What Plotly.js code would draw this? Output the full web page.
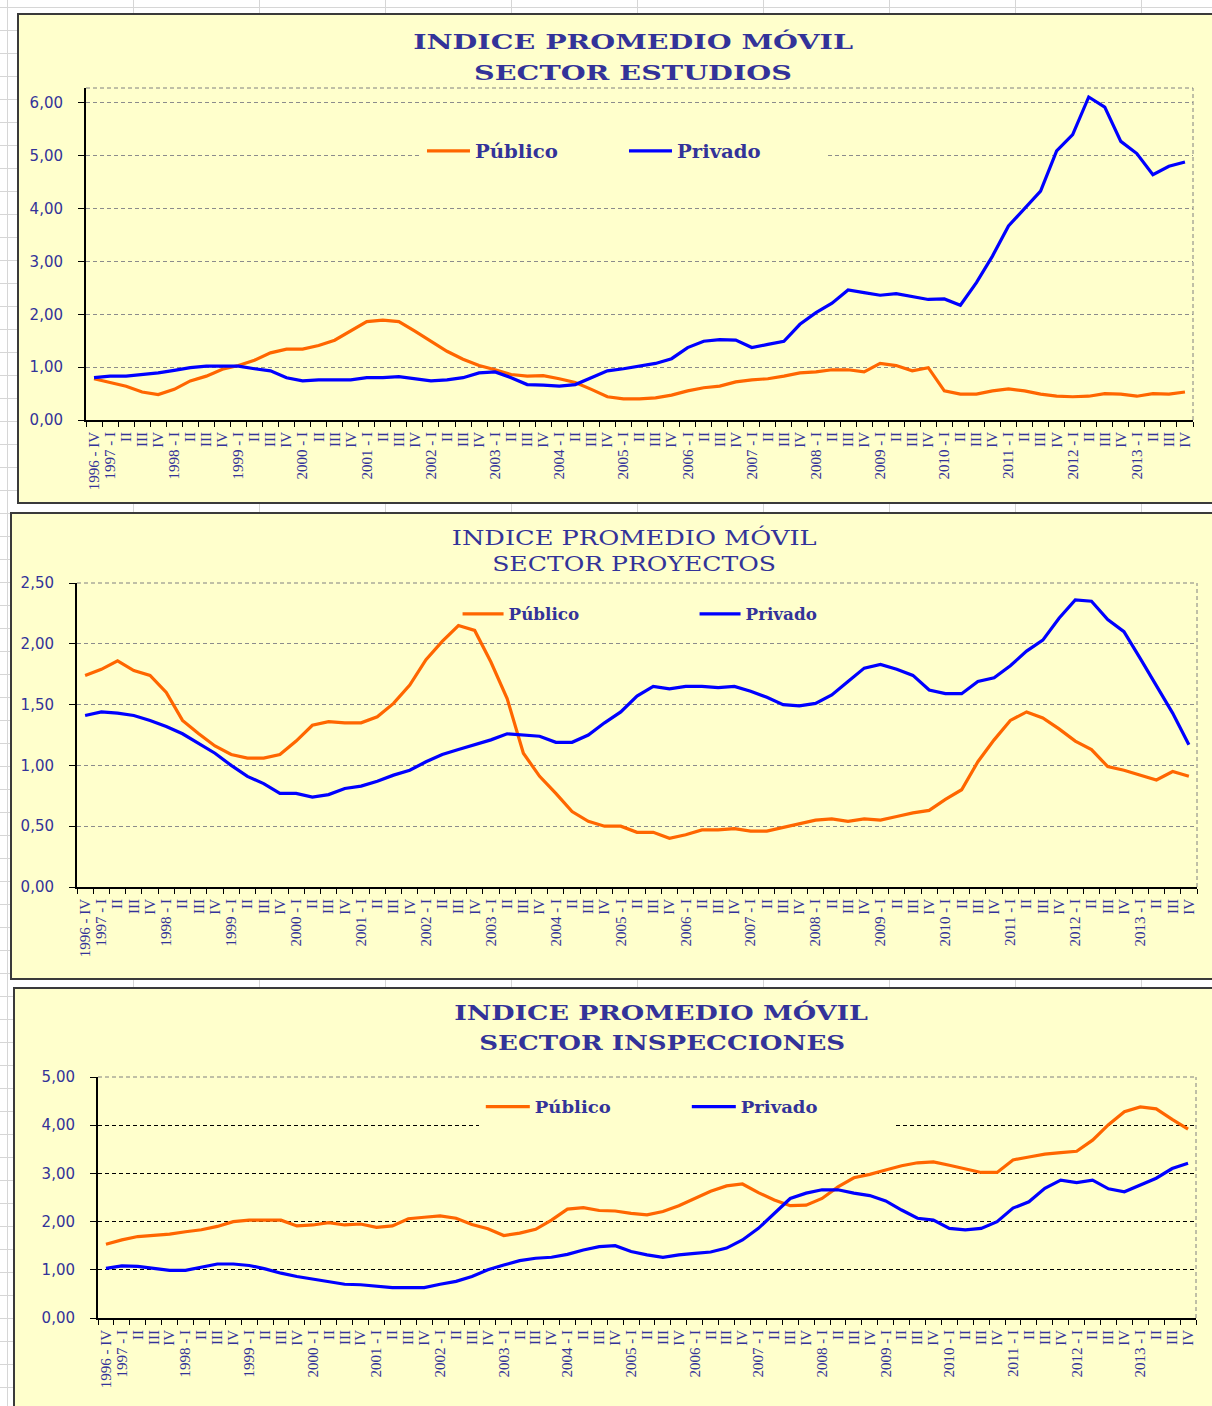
<!DOCTYPE html>
<html>
<head>
<meta charset="utf-8">
<script src="https://cdn.plot.ly/plotly-3.0.1.min.js"></script>
<style>
html,body{margin:0;padding:0;width:1212px;height:1406px;overflow:hidden;background:#ffffff;}
#sheet{position:absolute;left:0;top:0;width:1212px;height:1406px;
  background-image:linear-gradient(to right,#d6d6d6 1px,transparent 1px),linear-gradient(to bottom,#d6d6d6 1px,transparent 1px);
  background-size:126px 100%,100% 23px;background-position:7px 0,0 7px;}
.frame{position:absolute;border:2px solid #3a3a3a;background:#FFFFCC;box-sizing:border-box;}
.plot{position:absolute;}
</style>
</head>
<body>
<div id="sheet"></div>
<div class="frame" style="left:17px;top:13px;width:1205px;height:491px;"></div>
<div class="frame" style="left:10px;top:512px;width:1212px;height:468px;"></div>
<div class="frame" style="left:13px;top:987px;width:1210px;height:440px;"></div>
<div id="c1" class="plot" style="left:19px;top:15px;"></div>
<div id="c2" class="plot" style="left:12px;top:514px;"></div>
<div id="c3" class="plot" style="left:15px;top:989px;"></div>
<script>
// ---- categories / tick labels ----
const FIRST_QUARTER = "1996 - IV";
const YEARS = [1997,1998,1999,2000,2001,2002,2003,2004,2005,2006,2007,2008,2009,2010,2011,2012,2013];
const QUARTERS = ["I","II","III","IV"];

// ---- series values ----
const estudiosPublico = [0.78,0.71,0.64,0.53,0.48,0.58,0.74,0.83,0.96,1.03,1.13,1.27,1.34,1.34,1.41,1.51,1.68,1.86,1.89,1.86,1.68,1.49,1.30,1.15,1.03,0.95,0.86,0.83,0.84,0.78,0.71,0.58,
  0.44,0.40,0.40,0.42,0.47,0.55,0.61,0.64,0.72,0.76,0.78,0.83,0.89,0.91,0.95,0.95,0.91,1.07,1.03,0.93,0.99,0.55,0.49,0.49,0.55,0.59,0.55,0.49,0.45,0.44,0.45,0.50,0.49,0.45,0.50,0.49,0.53];
const estudiosPrivado = [0.80,0.83,0.83,0.86,0.89,0.94,0.99,1.02,1.02,1.02,0.97,0.93,0.80,0.74,0.76,0.76,0.76,0.80,0.80,0.82,0.78,0.74,0.76,0.80,0.89,0.91,0.80,0.67,0.66,0.64,0.67,0.80,
  0.93,0.97,1.02,1.07,1.16,1.37,1.49,1.52,1.51,1.37,1.43,1.49,1.81,2.03,2.21,2.46,2.41,2.36,2.39,2.34,2.28,2.29,2.17,2.60,3.10,3.67,4.01,4.33,5.09,5.40,6.11,5.92,5.27,5.04,4.64,4.80,4.88];
const proyectosPublico = [1.74,1.79,1.86,1.78,1.74,1.60,1.37,1.26,1.16,1.09,1.06,1.06,1.09,1.20,1.33,1.36,1.35,1.35,1.40,1.51,1.66,1.87,2.02,2.15,2.11,1.85,1.55,1.10,0.91,0.77,0.62,0.54,0.50,
  0.50,0.45,0.45,0.40,0.43,0.47,0.47,0.48,0.46,0.46,0.49,0.52,0.55,0.56,0.54,0.56,0.55,0.58,0.61,0.63,0.72,0.80,1.03,1.21,1.37,1.44,1.39,1.30,1.20,1.13,0.99,0.96,0.92,0.88,0.95,0.91];
const proyectosPrivado = [1.41,1.44,1.43,1.41,1.37,1.32,1.26,1.18,1.10,1.00,0.91,0.85,0.77,0.77,0.74,0.76,0.81,0.83,0.87,0.92,0.96,1.03,1.09,1.13,1.17,1.21,1.26,1.25,1.24,1.19,1.19,1.25,1.35,1.44,
  1.57,1.65,1.63,1.65,1.65,1.64,1.65,1.61,1.56,1.50,1.49,1.51,1.58,1.69,1.80,1.83,1.79,1.74,1.62,1.59,1.59,1.69,1.72,1.82,1.94,2.03,2.21,2.36,2.35,2.20,2.10,1.88,1.65,1.43,1.17];
const inspeccionesPublico = [1.53,1.62,1.69,1.72,1.74,1.79,1.83,1.90,2.00,2.03,2.03,2.03,1.91,1.93,1.98,1.93,1.95,1.88,1.91,2.06,2.09,2.12,2.07,1.94,1.85,1.71,1.76,1.84,2.03,2.26,2.29,2.23,2.22,
  2.17,2.14,2.21,2.33,2.48,2.63,2.74,2.78,2.60,2.45,2.33,2.34,2.48,2.72,2.91,2.98,3.07,3.16,3.22,3.24,3.17,3.10,3.02,3.02,3.28,3.34,3.40,3.43,3.46,3.69,4.01,4.28,4.38,4.34,4.12,3.92];
const inspeccionesPrivado = [1.03,1.08,1.07,1.03,0.99,0.99,1.06,1.12,1.12,1.09,1.02,0.93,0.86,0.81,0.76,0.70,0.69,0.66,0.63,0.63,0.63,0.70,0.76,0.86,1.00,1.10,1.19,1.24,1.26,1.32,1.41,1.48,1.50,
  1.38,1.31,1.26,1.31,1.34,1.37,1.45,1.62,1.86,2.17,2.48,2.59,2.66,2.66,2.59,2.54,2.43,2.24,2.07,2.03,1.86,1.83,1.86,2.00,2.28,2.41,2.69,2.86,2.81,2.86,2.68,2.62,2.76,2.90,3.10,3.21];

const SERIES_NAMES = ["Público","Privado"];
const TITLE_LINE1 = "INDICE PROMEDIO MÓVIL";
const SUBTITLES = ["SECTOR ESTUDIOS","SECTOR PROYECTOS","SECTOR INSPECCIONES"];

// build category keys (unique) and displayed tick labels
const categories = [FIRST_QUARTER];
const tickLabels = [FIRST_QUARTER];
YEARS.forEach(y => QUARTERS.forEach(q => {
  categories.push(y + " - " + q);
  tickLabels.push(q === "I" ? (y + " - I") : q);
}));

const NAVY = "#333399";
const ORANGE = "#FF6600";
const BLUE = "#0000FF";

// widen text horizontally (the reference's lettering is stretched wide)
function stretch(gd, titleW, legendW) {
  gd.querySelectorAll(".annotation-text").forEach((t, i) => {
    const w = t.getBBox().width;
    if (!w) return;
    t.style.transformBox = "fill-box";
    t.style.transformOrigin = "50% 50%";
    t.style.transform = "scaleX(" + (titleW[i] / w) + ")";
  });
  const lt = gd.querySelectorAll(".legendtext");
  if (lt.length) {
    const s = legendW / lt[0].getBBox().width;
    lt.forEach(t => {
      t.style.transformBox = "fill-box";
      t.style.transformOrigin = "0% 50%";
      t.style.transform = "scaleX(" + s + ")";
    });
  }
}

function panel(id, o) {
  const traces = [
    {type:"scatter", mode:"lines", name:SERIES_NAMES[0], x:categories, y:o.pub,
     line:{color:ORANGE, width:3.2}, hoverinfo:"skip"},
    {type:"scatter", mode:"lines", name:SERIES_NAMES[1], x:categories, y:o.priv,
     line:{color:BLUE, width:3.2}, hoverinfo:"skip"}
  ];
  const layout = {
    width:o.W, height:o.H,
    margin:{l:o.m.l, r:o.m.r, t:o.m.t, b:o.m.b, pad:0},
    paper_bgcolor:"#FFFFCC", plot_bgcolor:"#FFFFCC",
    separators:",.",
    showlegend:true,
    legend:{orientation:"h", x:o.leg.x, y:o.leg.y, xanchor:"left", yanchor:"middle",
      xref:"paper", yref:"paper",
      bgcolor:o.leg.bg, bordercolor:"rgba(0,0,0,0)", borderwidth:o.leg.bw,
      itemwidth:o.leg.iw, entrywidth:o.leg.ew, entrywidthmode:"pixels",
      font:{family:"DejaVu Serif", size:o.leg.fs, color:NAVY, weight:"bold"},
      traceorder:"normal"},
    xaxis:{type:"category", range:[-0.5, categories.length-0.5], fixedrange:true,
      tickmode:"array", tickvals:categories, ticktext:tickLabels, tickangle:-90,
      tickson:"boundaries", ticks:"outside", ticklen:5, tickwidth:1, tickcolor:"#000",
      showline:true, linecolor:"#000", linewidth:2, showgrid:false, zeroline:false,
      ticklabelstandoff:o.xso,
      tickfont:{family:"Liberation Serif", size:o.xfs, color:NAVY}},
    yaxis:{range:o.yr, tick0:0, dtick:o.dt, tickmode:"linear", tickformat:".2f", fixedrange:true,
      ticks:"outside", ticklen:6, tickwidth:1, tickcolor:"#000",
      showline:true, linecolor:"#000", linewidth:2, zeroline:false,
      showgrid:true, gridcolor:o.gc, gridwidth:1, griddash:"4px,3px",
      ticklabelstandoff:o.yso,
      tickfont:{family:"DejaVu Sans", size:15, color:NAVY}},
    shapes:[
      {type:"line", xref:"paper", yref:"paper", x0:0, x1:1, y0:1, y1:1, layer:"below",
       line:{color:"#808080", width:1, dash:"4px,3px"}},
      {type:"line", xref:"paper", yref:"paper", x0:1, x1:1, y0:0, y1:1, layer:"below",
       line:{color:"#808080", width:1, dash:"4px,3px"}}
    ],
    annotations:[
      {text:TITLE_LINE1, xref:"paper", yref:"paper", x:o.tx1, y:o.ty1, xanchor:"center", yanchor:"middle",
       showarrow:false, font:{family:"DejaVu Serif", size:o.tfs, color:NAVY, weight:o.tw}},
      {text:o.sub, xref:"paper", yref:"paper", x:o.tx2, y:o.ty2, xanchor:"center", yanchor:"middle",
       showarrow:false, font:{family:"DejaVu Serif", size:o.tfs, color:NAVY, weight:o.tw}}
    ]
  };
  return Plotly.newPlot(id, traces, layout, {staticPlot:true, displayModeBar:false})
    .then(gd => stretch(gd, o.titleW, o.legW));
}

// panel 1: plot area x 86..1193, y 88..420 (page px)
panel("c1", {W:1200, H:487, m:{l:67, r:26, t:73, b:82},
  pub:estudiosPublico, priv:estudiosPrivado, sub:SUBTITLES[0],
  yr:[0,6.28], dt:1, gc:"#8c8c8c", xso:4, yso:12, xfs:15,
  tx1:(633-86)/1107, tx2:(633-86)/1107, ty1:1.1386, ty2:1.045, tfs:20, tw:"bold",
  titleW:[440,318], legW:83,
  leg:{x:0.3017, y:0.810, bw:2, iw:43, ew:144, fs:18, bg:"#FFFFCC"}});

// panel 2: plot area x 77..1197, y 583..887
panel("c2", {W:1206, H:464, m:{l:65, r:21, t:69, b:91},
  pub:proyectosPublico, priv:proyectosPrivado, sub:SUBTITLES[1],
  yr:[0,2.5], dt:0.5, gc:"#8c8c8c", xso:4, yso:12, xfs:15,
  tx1:(633.5-77)/1120, tx2:(634-77)/1120, ty1:1.151, ty2:1.0625, tfs:20, tw:"normal",
  titleW:[365,284], legW:71,
  leg:{x:0.338, y:0.898, bw:2, iw:41, ew:181, fs:16, bg:"rgba(0,0,0,0)"}});

// panel 3: plot area x 98..1198, y 1077..1318
panel("c3", {W:1206, H:430, m:{l:83, r:25, t:88, b:101},
  pub:inspeccionesPublico, priv:inspeccionesPrivado, sub:SUBTITLES[2],
  yr:[0,5], dt:1, gc:"#000000", xso:4, yso:12, xfs:15,
  tx1:(662-98)/1100, tx2:(663-98)/1100, ty1:1.266, ty2:1.141, tfs:20, tw:"bold",
  titleW:[414,366], legW:76,
  leg:{x:0.345, y:0.8755, bw:4, iw:44, ew:147, fs:17, bg:"#FFFFCC"}});
</script>
</body>
</html>
